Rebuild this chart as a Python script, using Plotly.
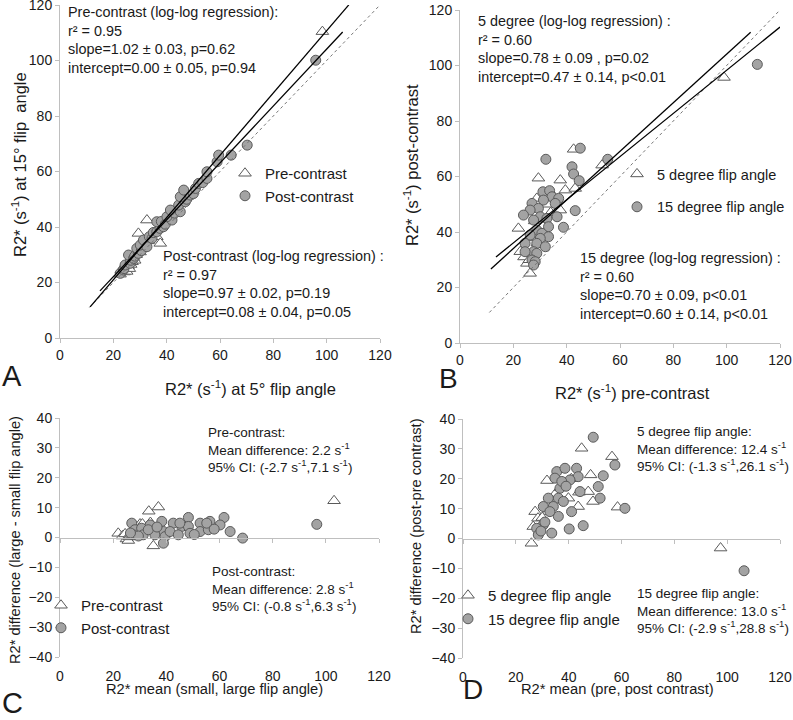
import plotly.graph_objects as go

W, H = 793, 720

# ---------------- Panel A: R2* at 5° (x) vs 15° (y) ----------------
a_pre_x = [22.5, 23.0, 24.0, 24.5, 25.0, 25.5, 26.0, 26.5, 27.0, 27.5, 28.0, 28.5, 29.4, 30.0, 31.0, 32.6, 33.0, 35.0, 36.3, 37.6, 98.4]
a_pre_y = [23.0, 24.5, 23.8, 25.5, 24.0, 26.0, 25.0, 26.5, 27.5, 29.0, 28.0, 30.0, 37.7, 31.0, 33.5, 42.5, 35.0, 38.0, 36.5, 34.1, 110.4]
a_post_x = [22.6, 23.8, 24.0, 24.4, 26.3, 26.5, 25.7, 27.6, 28.0, 29.4, 28.8, 30.5, 30.1, 31.3, 32.6, 33.5, 34.5, 35.0, 36.3, 37.5,
            38.8, 36.3, 38.0, 39.5, 42.0, 40.1, 43.0, 45.1, 41.4, 44.5, 47.0, 47.5, 45.1, 48.9, 50.0, 46.4, 50.8, 52.0, 53.5, 55.1,
            55.1, 58.9, 59.5, 64.2, 70.2, 95.9]
a_post_y = [23.3, 24.5, 25.0, 26.3, 26.9, 28.0, 29.9, 28.7, 29.5, 30.5, 32.3, 31.5, 33.5, 35.3, 32.9, 36.5, 35.9, 38.0, 38.3, 39.5,
            40.1, 41.9, 42.0, 41.0, 42.5, 43.7, 45.0, 45.5, 46.1, 47.9, 49.1, 50.0, 50.9, 51.5, 52.0, 53.3, 53.9, 55.7, 56.0, 57.5,
            59.9, 63.5, 65.9, 65.9, 69.5, 100.1]
# trendlines (slope, intercept, x start, x end)
a_line_slope = [1.122, 1.025]
a_line_icpt = [-1.48, 1.6]
a_line_x0 = [11.3, 15.0]
a_line_x1 = [108.3, 106.0]

# ---------------- Panel B: pre-contrast (x) vs post-contrast (y) ----------------
b5_x = [21.9, 22.6, 24.0, 25.1, 26.3, 26.0, 27.0, 28.0, 28.8, 29.0, 29.4, 30.0, 31.0, 32.0, 33.0, 34.0, 35.0, 37.6, 37.6, 39.5, 42.6, 43.2, 53.3, 99.0]
b5_y = [41.3, 32.9, 31.0, 28.7, 25.1, 30.0, 38.0, 44.0, 52.1, 36.0, 59.4, 45.0, 42.0, 40.0, 50.0, 47.0, 53.0, 58.7, 47.9, 55.1, 69.8, 55.7, 64.1, 95.7]
b15_x = [45.1, 32.2, 42.0, 42.6, 44.7, 31.1, 33.6, 34.5, 31.3, 37.0, 35.7, 27.0, 29.4, 26.3, 43.2, 23.8, 30.1, 27.6, 32.6, 36.4,
         38.8, 33.2, 28.8, 30.7, 26.3, 33.2, 30.1, 24.4, 28.8, 32.0, 27.6, 28.8, 24.4, 27.0, 28.2, 27.6, 55.4, 111.5]
b15_y = [70.2, 66.2, 63.5, 60.9, 58.5, 54.5, 54.9, 52.7, 51.5, 52.1, 50.3, 50.3, 48.5, 47.9, 47.7, 46.1, 45.5, 44.3, 44.9, 45.5,
         41.7, 41.9, 40.7, 39.5, 38.9, 38.3, 37.7, 35.9, 35.9, 34.7, 32.9, 32.3, 32.9, 29.9, 29.3, 28.1, 66.2, 100.4]
b_line_slope = [0.876, 0.778]
b_line_icpt = [16.5, 20.5]
b_line_x0 = [11.6, 13.5]
b_line_x1 = [109.0, 120.0]
identity_x = [11.0, 120.0]

# ---------------- Panel C: Bland-Altman flip angle ----------------
c_pre_x = [21.9, 23.5, 24.5, 25.0, 25.7, 26.0, 27.0, 28.0, 29.0, 30.1, 31.0, 33.4, 34.0, 35.1, 37.0, 103.1]
c_pre_y = [1.4, 0.5, 1.2, -0.5, -1.0, 0.2, 1.0, 2.0, 3.5, 4.5, 4.5, 8.8, 5.0, -2.8, 10.2, 12.3]
c_post_x = [27.0, 33.9, 38.3, 42.6, 48.3, 52.7, 56.4, 61.7, 60.2, 64.0, 68.7, 28.2, 30.7, 38.9, 45.8, 48.3, 27.6, 31.3, 35.7, 39.5,
            41.4, 44.5, 48.9, 52.7, 55.8, 38.9, 33.2, 45.1, 55.2, 29.5, 26.5, 36.5, 50.5, 58.0, 96.6]
c_post_y = [4.8, 4.2, 5.4, 4.8, 6.7, 4.8, 5.4, 6.7, 4.2, 2.0, -0.2, 2.6, 3.1, 2.0, 3.7, 3.7, 0.9, 0.9, 0.9, 0.3,
            2.0, 0.9, 1.4, 2.0, 2.6, -1.9, 2.6, 4.8, 4.8, 0.5, 1.5, 3.5, 1.0, 2.8, 4.4]

# ---------------- Panel D: Bland-Altman contrast ----------------
d5_x = [25.9, 26.6, 27.3, 28.4, 29.0, 31.8, 32.2, 39.9, 43.6, 43.9, 44.9, 47.4, 48.3, 49.2, 56.4, 58.5, 33.0, 35.0, 37.0, 30.0, 41.0, 97.5]
d5_y = [-1.6, 4.0, 9.0, 6.8, 3.4, 19.4, 9.0, 13.5, 10.7, 15.5, 30.2, 15.7, 21.3, 12.4, 27.4, 10.5, 12.0, 15.0, 17.0, 7.0, 20.0, -3.2]
d15_x = [49.3, 57.5, 35.5, 38.6, 43.0, 43.6, 53.1, 51.2, 44.3, 51.9, 61.3, 40.5, 36.7, 36.1, 32.3, 30.4, 34.2, 38.0, 41.1, 36.1,
         32.9, 30.4, 27.9, 28.5, 33.6, 40.2, 45.5, 34.8, 37.4, 29.5, 31.0, 39.0, 106.4]
d15_y = [33.9, 24.6, 22.4, 23.5, 23.5, 20.7, 21.0, 17.4, 15.7, 13.5, 10.1, 19.6, 16.8, 13.5, 13.5, 10.7, 10.7, 12.4, 9.0, 7.4,
         9.0, 4.6, 3.4, 1.2, 1.8, 3.2, 4.3, 20.2, 19.1, 2.5, 5.5, 17.5, -10.8]

xticks = [0, 20, 40, 60, 80, 100, 120]

FONT = "Liberation Sans, Arial, sans-serif"
AXC = "#bfbfbf"
TXT = "#1a1a1a"

tri = dict(symbol="triangle-up", size=11, color="white", line=dict(color="#5a5a5a", width=1))
circ = dict(symbol="circle", size=10, color="#a3a3a3", line=dict(color="#5a5a5a", width=1))


def dx(p0, p1):
    return [p0 / W, p1 / W]


def dy(top, bot):
    return [1 - bot / H, 1 - top / H]


fig = go.Figure()

# Panel A
fig.add_trace(go.Scatter(x=a_pre_x, y=a_pre_y, mode="markers", marker=tri, name="Pre-contrast",
                         xaxis="x", yaxis="y", legend="legend"))
fig.add_trace(go.Scatter(x=a_post_x, y=a_post_y, mode="markers", marker=circ, name="Post-contrast",
                         xaxis="x", yaxis="y", legend="legend"))
fig.add_trace(go.Scatter(x=identity_x, y=identity_x, mode="lines", line=dict(color="#777", width=1, dash="dot"),
                         showlegend=False, xaxis="x", yaxis="y", hoverinfo="skip"))
for s, b, x0, x1 in zip(a_line_slope, a_line_icpt, a_line_x0, a_line_x1):
    fig.add_trace(go.Scatter(x=[x0, x1], y=[s * x0 + b, s * x1 + b], mode="lines",
                             line=dict(color="black", width=1.3), showlegend=False, xaxis="x", yaxis="y"))

# Panel B
fig.add_trace(go.Scatter(x=b5_x, y=b5_y, mode="markers", marker=tri, name="5 degree flip angle",
                         xaxis="x2", yaxis="y2", legend="legend2", legendgroup="b1"))
fig.add_trace(go.Scatter(x=b15_x, y=b15_y, mode="markers", marker=circ, name="15 degree flip angle",
                         xaxis="x2", yaxis="y2", legend="legend2", legendgroup="b2"))
fig.add_trace(go.Scatter(x=identity_x, y=identity_x, mode="lines", line=dict(color="#777", width=1, dash="dot"),
                         showlegend=False, xaxis="x2", yaxis="y2", hoverinfo="skip"))
for s, b, x0, x1 in zip(b_line_slope, b_line_icpt, b_line_x0, b_line_x1):
    fig.add_trace(go.Scatter(x=[x0, x1], y=[s * x0 + b, s * x1 + b], mode="lines",
                             line=dict(color="black", width=1.3), showlegend=False, xaxis="x2", yaxis="y2"))

# Panel C
fig.add_trace(go.Scatter(x=c_pre_x, y=c_pre_y, mode="markers", marker=tri, name="Pre-contrast",
                         xaxis="x3", yaxis="y3", legend="legend3"))
fig.add_trace(go.Scatter(x=c_post_x, y=c_post_y, mode="markers", marker=circ, name="Post-contrast",
                         xaxis="x3", yaxis="y3", legend="legend3"))

# Panel D
fig.add_trace(go.Scatter(x=d5_x, y=d5_y, mode="markers", marker=tri, name="5 degree flip angle",
                         xaxis="x4", yaxis="y4", legend="legend4", legendgroup="d1"))
fig.add_trace(go.Scatter(x=d15_x, y=d15_y, mode="markers", marker=circ, name="15 degree flip angle",
                         xaxis="x4", yaxis="y4", legend="legend4", legendgroup="d2"))

# dummy traces so the zero-line axes of C and D are drawn
fig.add_trace(go.Scatter(x=[None], y=[None], xaxis="x5", yaxis="y3", showlegend=False, hoverinfo="skip"))
fig.add_trace(go.Scatter(x=[None], y=[None], xaxis="x6", yaxis="y4", showlegend=False, hoverinfo="skip"))

tickfont = dict(family=FONT, size=14, color=TXT)

common_x = dict(range=[0, 120], tickvals=xticks, showgrid=False, zeroline=False, ticklabeloverflow="allow",
                linecolor=AXC, tickcolor=AXC, ticklen=4, fixedrange=True, automargin=False)
common_y = dict(showgrid=False, zeroline=False, tickfont=tickfont, showline=True, linecolor=AXC,
                ticklabeloverflow="allow", tickcolor=AXC, ticks="outside", ticklen=4, fixedrange=True,
                automargin=False)

domA_x, domA_y = dx(60, 380), dy(5, 338)
domB_x, domB_y = dx(460, 780), dy(10, 343)
domC_x, domC_y = dx(60, 379), dy(418, 657)
domD_x, domD_y = dx(463, 780), dy(419, 658)

leg_common = dict(xanchor="left", yanchor="top", bgcolor="rgba(0,0,0,0)", itemclick=False,
                  itemdoubleclick=False, itemwidth=30)

fig.update_layout(
    width=W, height=H, margin=dict(l=0, r=0, t=0, b=0, pad=0, autoexpand=False),
    paper_bgcolor="white", plot_bgcolor="white",
    font=dict(family=FONT, color=TXT),
    xaxis=dict(domain=domA_x, anchor="y", showline=True, ticks="outside", tickfont=tickfont, **common_x),
    yaxis=dict(domain=domA_y, anchor="x", range=[0, 120], dtick=20, **common_y),
    xaxis2=dict(domain=domB_x, anchor="y2", showline=True, ticks="outside", tickfont=tickfont, **common_x),
    yaxis2=dict(domain=domB_y, anchor="x2", range=[0, 120], dtick=20, **common_y),
    xaxis3=dict(domain=domC_x, anchor="y3", showline=False, ticks="", ticklabelstandoff=9, tickfont=tickfont, **common_x),
    yaxis3=dict(domain=domC_y, anchor="x3", range=[-40, 40], dtick=10, **common_y),
    xaxis4=dict(domain=domD_x, anchor="y4", showline=False, ticks="", ticklabelstandoff=9, tickfont=tickfont, **common_x),
    yaxis4=dict(domain=domD_y, anchor="x4", range=[-40, 40], dtick=10, **common_y),
    xaxis5=dict(overlaying="x3", anchor="free", position=(domC_y[0] + domC_y[1]) / 2, showline=True,
                ticks="outside", showticklabels=False, **common_x),
    xaxis6=dict(overlaying="x4", anchor="free", position=(domD_y[0] + domD_y[1]) / 2, showline=True,
                ticks="outside", showticklabels=False, **common_x),
    showlegend=True,
    legend=dict(x=225 / W, y=1 - 157 / H, font=dict(family=FONT, size=15, color=TXT), **leg_common),
    legend2=dict(x=617 / W, y=1 - 158 / H, font=dict(family=FONT, size=14.5, color=TXT), tracegroupgap=11, **leg_common),
    legend3=dict(x=41 / W, y=1 - 589 / H, font=dict(family=FONT, size=15, color=TXT), **leg_common),
    legend4=dict(x=448 / W, y=1 - 579 / H, font=dict(family=FONT, size=15, color=TXT), tracegroupgap=1, **leg_common),
)


def ann(text, px, py, size=14, xanchor="left", yanchor="top", angle=0):
    fig.add_annotation(text=text, x=px / W, y=1 - py / H, xref="paper", yref="paper", showarrow=False,
                       xanchor=xanchor, yanchor=yanchor, align="left", textangle=angle, borderpad=0,
                       font=dict(family=FONT, size=size, color=TXT))


S = "s<sup>-1</sup>"
# Panel A texts
ann("Pre-contrast (log-log regression):<br>r² = 0.95<br>slope=1.02 ± 0.03, p=0.62<br>intercept=0.00 ± 0.05, p=0.94", 67, 3, size=14.4)
ann("Post-contrast (log-log regression) :<br>r² = 0.97<br>slope=0.97 ± 0.02, p=0.19<br>intercept=0.08 ± 0.04, p=0.05", 162, 247, size=14.4)
# Panel B texts
ann("5 degree (log-log regression) :<br>r² = 0.60<br>slope=0.78 ± 0.09 , p=0.02<br>intercept=0.47 ± 0.14, p<0.01", 477, 12, size=14.4)
ann("15 degree (log-log regression) :<br>r² = 0.60<br>slope=0.70 ± 0.09, p<0.01<br>intercept=0.60 ± 0.14, p<0.01", 579, 249, size=14.4)
# Panel C texts
ann(f"Pre-contrast:<br>Mean difference: 2.2 {S}<br>95% CI: (-2.7 {S},7.1 {S})", 207, 424, size=13.5)
ann(f"Post-contrast:<br>Mean difference: 2.8 {S}<br>95% CI: (-0.8 {S},6.3 {S})", 211, 563, size=13.5)
# Panel D texts
ann(f"5 degree flip angle:<br>Mean difference: 12.4 {S}<br>95% CI: (-1.3 {S},26.1 {S})", 636, 423, size=13.5)
ann(f"15 degree flip angle:<br>Mean difference: 13.0 {S}<br>95% CI: (-2.9 {S},28.8 {S})", 636, 585, size=13.5)

# Axis titles
ann(f"R2* ({S}) at 5° flip angle", 250, 388, size=16.5, xanchor="center", yanchor="middle")
ann(f"R2* ({S}) at 15° flip  angle", 19, 165, size=16.5, xanchor="center", yanchor="middle", angle=-90)
ann(f"R2* ({S}) pre-contrast", 632, 392, size=16.5, xanchor="center", yanchor="middle")
ann(f"R2* ({S}) post-contrast", 411, 165, size=16.5, xanchor="center", yanchor="middle", angle=-90)
ann("R2* mean (small, large flip angle)", 214, 689, size=14.7, xanchor="center", yanchor="middle")
ann("R2* difference (large - small flip angle)", 15, 540, size=14.6, xanchor="center", yanchor="middle", angle=-90)
ann("R2* mean (pre, post contrast)", 617, 689, size=14.7, xanchor="center", yanchor="middle")
ann("R2* difference (post-pre contrast)", 416, 526, size=14.6, xanchor="center", yanchor="middle", angle=-90)

# Panel letters
ann("A", 12, 376, size=29, xanchor="center", yanchor="middle")
ann("B", 448, 378, size=28, xanchor="center", yanchor="middle")
ann("C", 12, 720, size=29, xanchor="center", yanchor="bottom")
ann("D", 473, 689, size=28, xanchor="center", yanchor="middle")

fig.write_html("out.html", config={"displayModeBar": False, "staticPlot": True},
               post_script="document.body.style.margin='0';document.body.style.overflow='hidden';")
